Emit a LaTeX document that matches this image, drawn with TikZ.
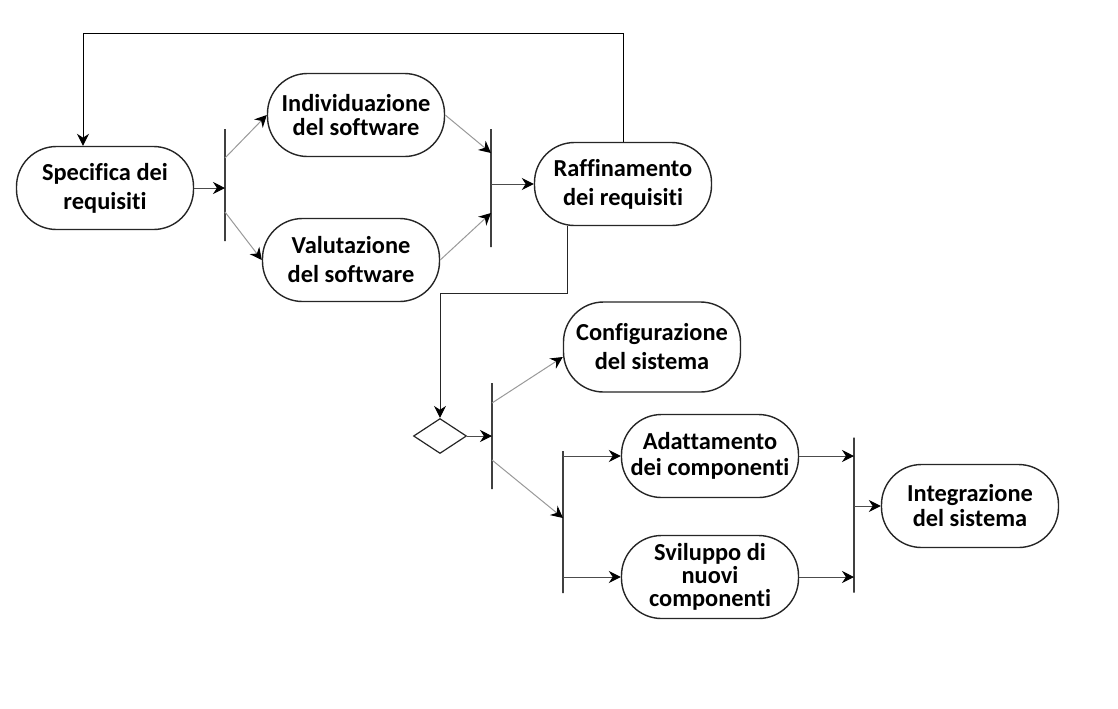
\documentclass[tikz,border=0pt]{standalone}
\usepackage{fontspec}
\setmainfont[Ligatures=NoCommon]{Carlito}
\usetikzlibrary{arrows.meta,shapes.geometric}

\begin{document}
\begin{tikzpicture}[x=0.5pt,y=-0.5pt,
  atividade/.style={draw=black!85, line width=0.7pt, fill=white, rectangle,
    rounded corners=20pt, minimum width=88.5pt, minimum height=41.5pt,
    inner sep=0pt, align=center, font=\fontsize{12.2}{14.5}\selectfont\bfseries},
  barra/.style={draw=black!75, line width=0.6pt, inner sep=0pt, minimum width=0pt},
  seta/.style={-{Stealth[length=6pt,width=6pt,color=black]}, draw=black!70, line width=0.5pt},
  setad/.style={seta, draw=black!40}]

% Margens
\useasboundingbox (0,0) rectangle (1118,708);

% Atividades
\node[atividade] (spec) at (105,188) {Specifica dei\\requisiti};
\node[atividade, font=\fontsize{12.2}{12}\selectfont\bfseries] (ind) at (356,115) {Individuazione\\del software};
\node[atividade] (val) at (351,260) {Valutazione\\del software};
\node[atividade] (raf) at (623,184) {Raffinamento\\dei requisiti};
\node[atividade, minimum height=45pt] (conf) at (652,347) {Configurazione\\del sistema};
\node[atividade, font=\fontsize{12.2}{13}\selectfont\bfseries] (ada) at (710,456) {Adattamento\\dei componenti};
\node[atividade, font=\fontsize{12.2}{11.6}\selectfont\bfseries] (svi) at (710,577) {Sviluppo di\\nuovi\\componenti};
\node[atividade, font=\fontsize{12.2}{12.5}\selectfont\bfseries] (int) at (970,506) {Integrazione\\del sistema};

% Barras de sincronizacao
\node[barra, minimum height=56pt] (b1) at (225,185) {};
\node[barra, minimum height=59pt] (b2) at (491,188) {};
\node[barra, minimum height=53pt] (b3) at (492,436) {};
\node[barra, minimum height=71pt] (b4) at (563,522) {};
\node[barra, minimum height=77.5pt] (b5) at (854,515) {};

% Decisao
\node[draw=black!85, line width=0.6pt, diamond, inner sep=0pt,
  minimum width=26.5pt, minimum height=17.5pt] (dec) at (440,436) {};

% Primeira parte
\draw[seta] (spec.east) -- (spec.east -| b1);
\draw[setad] (b1 |- 0,158) -- (ind.west);
\draw[setad] (b1 |- 0,212) -- (val.west);
\draw[setad] (ind.east) -- (b2 |- 0,153);
\draw[setad] (val.east) -- (b2 |- 0,213);
\draw[seta] (b2 |- raf) -- (raf.west);

% Retorno
\coordinate (topo) at (83,33);
\draw[seta, draw=black] (raf.north) |- (topo) -- (topo |- spec.north);

% Para a decisao
\coordinate (volta) at (440,293);
\draw[seta, draw=black!85] (raf.south -| 567,0) |- (volta) -- (dec.north);
\draw[seta] (dec.east) -- (dec -| b3);

% Segunda parte
\draw[setad] (b3 |- 0,403) -- ([yshift=-5pt]conf.west);
\draw[setad] (b3 |- 0,460) -- (b4 |- 0,518);
\draw[seta] (b4 |- ada) -- (ada.west);
\draw[seta] (b4 |- svi) -- (svi.west);
\draw[seta] (ada.east) -- (ada -| b5);
\draw[seta] (svi.east) -- (svi -| b5);
\draw[seta] (b5 |- int) -- (int.west);

\end{tikzpicture}
\end{document}
